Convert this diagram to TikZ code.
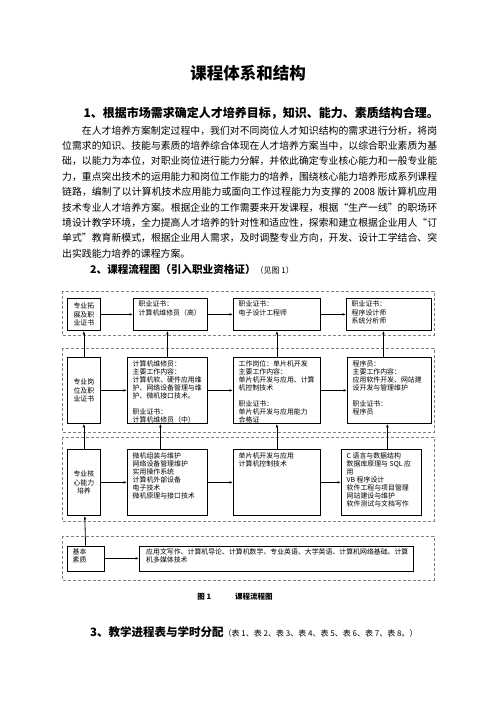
\documentclass[tikz,border=0pt]{standalone}
\usepackage{fontspec}
\setmainfont{Noto Sans CJK SC}
\usetikzlibrary{arrows.meta}
\XeTeXlinebreaklocale "zh"
\XeTeXlinebreakskip = 0pt plus 1pt

\newcommand{\boxfont}{\fontsize{6.9}{8.1}\selectfont}
\tikzset{
  frame/.style = {gray, densely dashed, line width=.4pt},
  box/.style = {draw, line width=.8pt, anchor=north west, inner sep=0pt},
  boxtext/.style = {font=\boxfont, align=left, anchor=north west, inner xsep=5.5pt, inner ysep=3pt},
  link/.style = {-{Latex[length=3.5pt,width=2.6pt]}, line width=.8pt},
}

\begin{document}
\begin{tikzpicture}[x=1pt, y=-1pt]
\useasboundingbox (0,0) rectangle (496,702);

%title and first section
\node[font=\bfseries\fontsize{16.5}{16.5}\selectfont] (title) at (248,73) {课程体系和结构};
\node[anchor=west, font=\bfseries\fontsize{12}{12}\selectfont] (head1) at (80,113)
  {1、根据市场需求确定人才培养目标，知识、能力、素质结构合理。};
\node[anchor=north west, inner sep=0pt, text width=375pt, align=justify,
      font=\fontsize{9.85}{15.4}\selectfont] (intro) at (62,125.5)
  {\hspace*{2em}在人才培养方案制定过程中，我们对不同岗位人才知识结构的需求进行分析，将岗\linebreak
   位需求的知识、技能与素质的培养综合体现在人才培养方案当中，以综合职业素质为基\linebreak
   础，以能力为本位，对职业岗位进行能力分解，并依此确定专业核心能力和一般专业能\linebreak
   力，重点突出技术的运用能力和岗位工作能力的培养，围绕核心能力培养形成系列课程\linebreak
   链路，编制了以计算机技术应用能力或面向工作过程能力为支撑的 2008 版计算机应用\linebreak
   技术专业人才培养方案。根据企业的工作需要来开发课程，根据“生产一线”的职场环\linebreak
   境设计教学环境，全力提高人才培养的针对性和适应性，探索和建立根据企业用人“订\linebreak
   单式”教育新模式，根据企业用人需求，及时调整专业方向，开发、设计工学结合、突\linebreak
   出实践能力培养的课程方案。};

%second section heading
\node[anchor=west, inner sep=0pt] (head2) at (90,269)
  {\bfseries\fontsize{10.6}{10.6}\selectfont 2、课程流程图（引入职业资格证）\mdseries\fontsize{8}{8}\selectfont（见图 1）};

%dashed frames of the four rows
\foreach \top/\bot in {291/335, 348/432, 437/521, 536/580}
  \draw[frame] (62,\top) rectangle (434,\bot);

%row 1: certificates
\node[box, minimum width=33pt, minimum height=32pt, font=\boxfont, align=center] (a1) at (67,298) {专业拓\\展及职\\业证书};
\node[box, minimum width=74pt, minimum height=32pt,
      label={[boxtext]north west:职业证书：\\计算机维修员（高）}] (b1) at (133,298) {};
\node[box, minimum width=87pt, minimum height=32pt,
      label={[boxtext]north west:职业证书：\\电子设计工程师}] (c1) at (233,298) {};
\node[box, minimum width=85pt, minimum height=32pt,
      label={[boxtext]north west:职业证书：\\程序设计师\\系统分析师}] (d1) at (346,298) {};

%row 2: posts and certificates
\node[box, minimum width=33pt, minimum height=66pt, font=\boxfont, align=center] (a2) at (67,357) {专业岗\\位及职\\业证书};
\node[box, minimum width=80pt, minimum height=66pt,
      label={[boxtext]north west:计算机维修员：\\主要工作内容：\\计算机软、硬件应用维\\护、网络设备管理与维\\护、微机接口技术。\\[8.1pt]职业证书：\\计算机维修员（中）}] (b2) at (127,357) {};
\node[box, minimum width=87pt, minimum height=66pt,
      label={[boxtext]north west:工作岗位：单片机开发\\主要工作内容：\\单片机开发与应用、计算\\机控制技术\\[8.1pt]职业证书：\\单片机开发与应用能力\\合格证}] (c2) at (233,357) {};
\node[box, minimum width=84pt, minimum height=66pt,
      label={[boxtext]north west:程序员：\\主要工作内容：\\应用软件开发、网站建\\设开发与管理维护\\[8.1pt]职业证书：\\程序员}] (d2) at (347,357) {};

%row 3: core abilities
\node[box, minimum width=33pt, minimum height=66pt, font=\boxfont, align=center] (a3) at (67,449) {专业核\\心能力\\培养};
\node[box, minimum width=80pt, minimum height=66pt,
      label={[boxtext]north west:微机组装与维护\\网络设备管理维护\\实用操作系统\\计算机外部设备\\电子技术\\微机原理与接口技术}] (b3) at (127,449) {};
\node[box, minimum width=87pt, minimum height=66pt,
      label={[boxtext]north west:单片机开发与应用\\计算机控制技术}] (c3) at (233,449) {};
\node[box, minimum width=80pt, minimum height=66pt,
      label={[boxtext]north west:C 语言与数据结构\\数据库原理与 SQL 应\\用\\VB 程序设计\\软件工程与项目管理\\网站建设与维护\\软件测试与文档写作}] (d3) at (341,449) {};

%row 4: basic qualities
\node[box, minimum width=37pt, minimum height=25pt,
      label={[boxtext]north west:基本\\素质}] (a4) at (67,545.5) {};
\node[box, minimum width=274pt, minimum height=25pt,
      label={[boxtext, inner xsep=7pt]north west:应用文写作、计算机导论、计算机数学、专业英语、大学英语、计算机网络基础、计算\\机多媒体技术}] (base) at (139,545.5) {};

%horizontal arrows
\foreach \s/\t in {a1/b1, b1/c1, c1/d1, a2/b2, b2/c2, c2/d2, a3/b3, b3/c3, c3/d3, a4/base}
  \draw[link] (\s) -- (\t);

%vertical arrows
\foreach \lo/\hi in {a2/a1, a3/a2, a4/a3, c2/c1, c3/c2}
  \draw[link] (\lo) -- (\hi);
\draw[link] (b2.north) -- (b2.north |- b1.south);
\draw[link] ([xshift=-7pt]b3.north) -- ([xshift=-7pt]b3.north |- b2.south);
\draw[link] ([xshift=-6pt]d2.north) -- ([xshift=-6pt]d2.north |- d1.south);
\draw[link] ([xshift=6pt]d3.north) -- ([xshift=6pt]d3.north |- d2.south);

%caption and third section heading
\node[font=\bfseries\fontsize{7.5}{7.5}\selectfont] (cap) at (235,597) {图 1\hspace{3.2em}课程流程图};
\node[anchor=west, inner sep=0pt] (head3) at (90,632)
  {\bfseries\fontsize{11.5}{11.5}\selectfont 3、教学进程表与学时分配\mdseries\fontsize{8}{8}\selectfont（表 1、表 2、表 3、表 4、表 5、表 6、表 7、表 8。）};

\end{tikzpicture}
\end{document}
